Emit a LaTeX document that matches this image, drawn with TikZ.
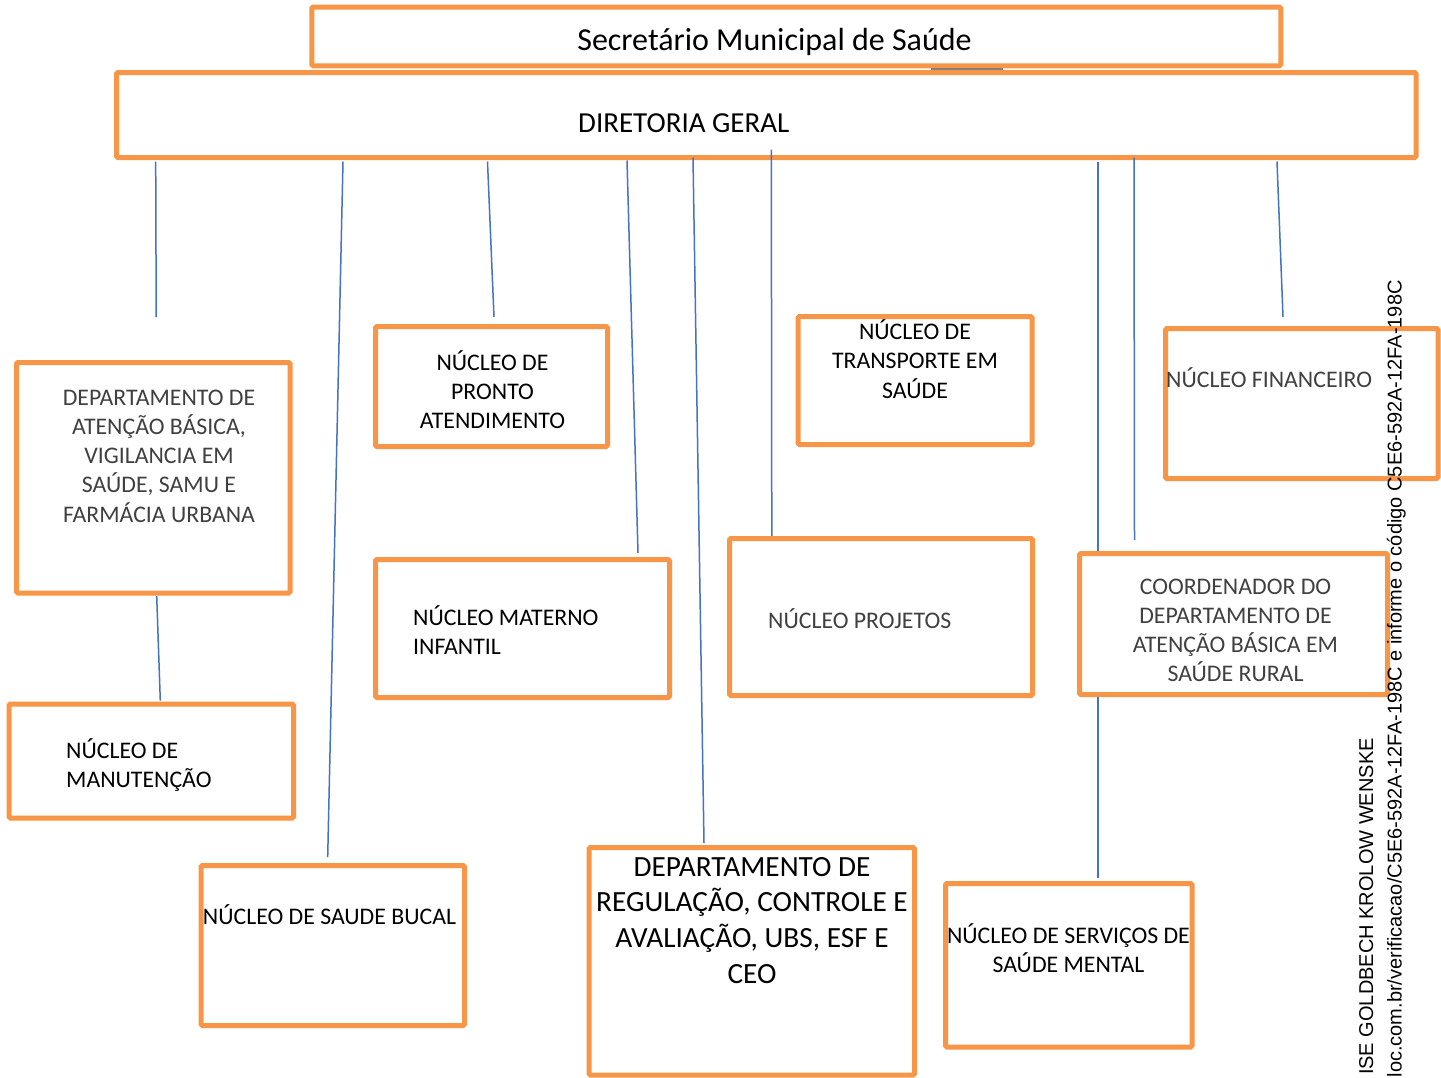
\documentclass[tikz,border=0pt]{standalone}
\usepackage{fontspec}
\setmainfont{Carlito}
\newfontfamily\wmfont{Liberation Sans}
\definecolor{boxorange}{HTML}{F79646}
\definecolor{linkblue}{HTML}{4472C4}
\definecolor{softgrey}{HTML}{404040}
\begin{document}
\begin{tikzpicture}[x=1pt, y=-1pt,
  box/.style={draw=boxorange, line width=5pt, fill=white, rounded corners=1.5pt,
    inner sep=0pt, outer sep=0pt},
  link/.style={draw=linkblue, line width=1.5pt},
  lbl/.style={inner sep=0pt, font=\fontsize{23.8}{29.25}\selectfont, text=black},
  ctr/.style={lbl, anchor=base, align=flush center, text width=#1},
  lft/.style={lbl, anchor=base west, align=flush left, text width=#1},
  dim/.style={text=softgrey},
  stamptext/.style={inner sep=0pt, font=\wmfont\fontsize{20}{24}\selectfont, rotate=90, anchor=base east}]

% page
\useasboundingbox (0,0) rectangle (1441,1077);
\fill[white] (0,0) rectangle (1441,1077);

% top level boxes
\node[box, minimum width=969pt, minimum height=58.8pt] (sec) at (796.25,36.4) {};
\node[box, minimum width=1299.5pt, minimum height=85pt] (dg) at (766.25,115) {};

% connectors
\coordinate (a1) at (155.7,161.7);  \coordinate (a2) at (156.2,317);
\coordinate (b1) at (343,161.5);    \coordinate (b2) at (327.7,857);
\coordinate (c1) at (487.5,161.5);  \coordinate (c2) at (494,317);
\coordinate (d1) at (627,160.5);    \coordinate (d2) at (638,553);
\coordinate (e1) at (693,157.5);    \coordinate (e2) at (704,843);
\coordinate (f1) at (771.3,149.5);  \coordinate (f2) at (771.8,537);
\coordinate (g1) at (1098,161.5);   \coordinate (g2) at (1098,877.5);
\coordinate (h1) at (1134,157.5);   \coordinate (h2) at (1134.5,540);
\coordinate (i1) at (1277,161.5);   \coordinate (i2) at (1283,317);
\coordinate (j1) at (156.7,596);    \coordinate (j2) at (160.3,700.7);
\coordinate (k1) at (930.7,69);     \coordinate (k2) at (1003,69);
\draw[link] (a1) -- (a2);
\draw[link] (b1) -- (b2);
\draw[link] (c1) -- (c2);
\draw[link] (d1) -- (d2);
\draw[link] (e1) -- (e2);
\draw[link] (f1) -- (f2);
\draw[link] (g1) -- (g2);
\draw[link] (h1) -- (h2);
\draw[link] (i1) -- (i2);
\draw[link] (j1) -- (j2);
\draw[draw=gray, line width=1.2pt] (k1) -- (k2);

% unit boxes
\node[box, minimum width=273.5pt, minimum height=230.5pt] (atb) at (153.25,477.75) {};
\node[box, minimum width=284.5pt, minimum height=114pt]   (man) at (151.25,761) {};
\node[box, minimum width=232pt,   minimum height=120pt]   (pa)  at (491.5,386.5) {};
\node[box, minimum width=294pt,   minimum height=138pt]   (mi)  at (522.5,628.5) {};
\node[box, minimum width=234pt,   minimum height=128pt]   (tr)  at (915,380.5) {};
\node[box, minimum width=303pt,   minimum height=157pt]   (prj) at (881,617) {};
\node[box, minimum width=272.5pt, minimum height=150pt]   (fin) at (1301.75,403.5) {};
\node[box, minimum width=308pt,   minimum height=141pt]   (crd) at (1233.5,624) {};
\node[box, minimum width=263.5pt, minimum height=160pt]   (sb)  at (332.75,945.5) {};
\node[box, minimum width=325.5pt, minimum height=227.5pt] (reg) at (751.75,961.25) {};
\node[box, minimum width=246.5pt, minimum height=163.5pt] (sm)  at (1068.75,965.25) {};

% labels
\node[lbl, anchor=base, font=\fontsize{32}{38}\selectfont] (tsec) at (774.5,50) {Secretário Municipal de Saúde};
\node[lbl, anchor=base west, font=\fontsize{29}{35}\selectfont] (tdg) at (578,132) {DIRETORIA GERAL};
\node[ctr=260pt, dim] (tatb) at (159,405) {DEPARTAMENTO DE\\ATENÇÃO BÁSICA,\\VIGILANCIA EM\\SAÚDE, SAMU E\\FARMÁCIA URBANA};
\node[lft=220pt] (tman) at (66,758) {NÚCLEO DE\\MANUTENÇÃO};
\node[ctr=220pt] (tpa) at (492.5,370) {NÚCLEO DE\\PRONTO\\ATENDIMENTO};
\node[lft=250pt] (tmi) at (413,625) {NÚCLEO MATERNO\\INFANTIL};
\node[ctr=220pt] (ttr) at (915,339.5) {NÚCLEO DE\\TRANSPORTE EM\\SAÚDE};
\node[lft=250pt, dim] (tprj) at (768,628) {NÚCLEO PROJETOS};
\node[lft=260pt, dim] (tfin) at (1166,387) {NÚCLEO FINANCEIRO};
\node[ctr=290pt, dim] (tcrd) at (1235.5,594) {COORDENADOR DO\\DEPARTAMENTO DE\\ATENÇÃO BÁSICA EM\\SAÚDE RURAL};
\node[lbl, anchor=base] (tsb) at (329.5,924) {NÚCLEO DE SAUDE BUCAL};
\node[ctr=320pt, font=\fontsize{29.3}{35.7}\selectfont] (treg) at (752,876) {DEPARTAMENTO DE\\REGULAÇÃO, CONTROLE E\\AVALIAÇÃO, UBS, ESF E\\CEO};
\node[ctr=260pt] (tsm) at (1068.5,943) {NÚCLEO DE SERVIÇOS DE\\SAÚDE MENTAL};

% vertical stamp along the right margin
\node[stamptext] (wm1) at (1373,738) {ISE GOLDBECH KROLOW WENSKE};
\node[stamptext] (wm2) at (1401.5,280) {loc.com.br/verificacao/C5E6-592A-12FA-198C e informe o código C5E6-592A-12FA-198C};
\end{tikzpicture}
\end{document}
